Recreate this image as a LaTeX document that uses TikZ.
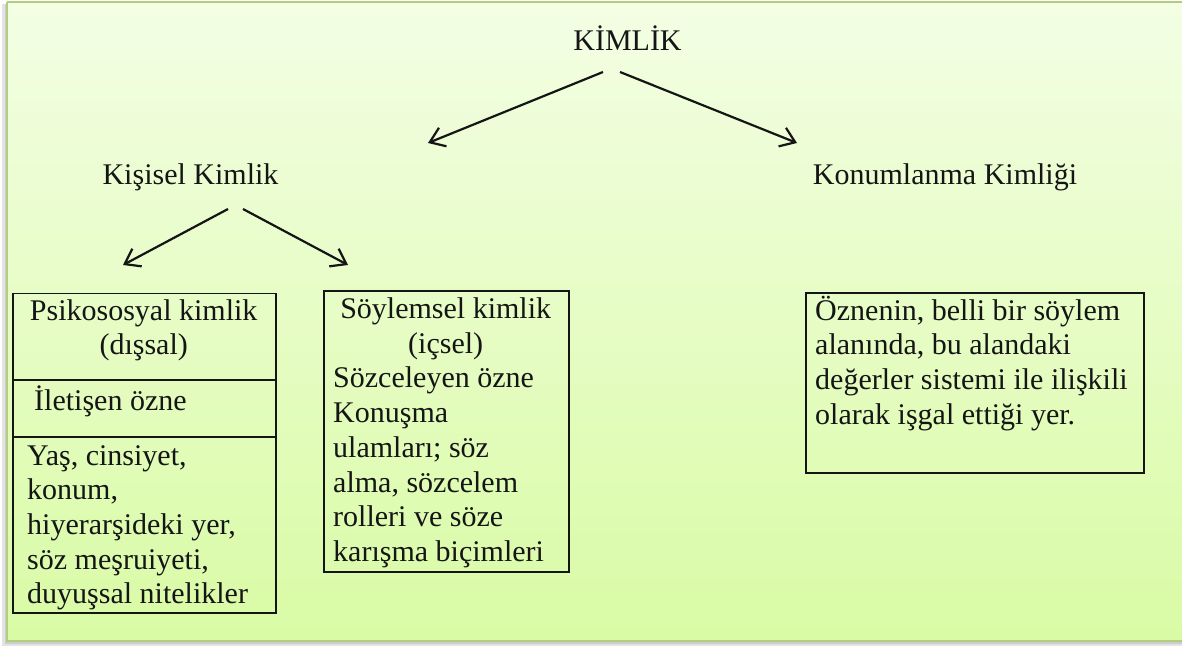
\documentclass[tikz,border=0pt]{standalone}
\usepackage{fontspec}
\setmainfont{Liberation Serif}
\usetikzlibrary{arrows.meta}
\definecolor{bgtop}{HTML}{F3FEE4}
\definecolor{bgbot}{HTML}{D9FBA5}
\definecolor{framec}{HTML}{B2CC80}
\definecolor{ink}{HTML}{151515}
\begin{document}
\begin{tikzpicture}[x=1pt,y=-1pt,
  lbl/.style={inner sep=0, anchor=base, font=\fontsize{30}{34.7}\selectfont, text=ink},
  txt/.style={inner sep=0, anchor=base west, font=\fontsize{30}{34.7}\selectfont, text=ink},
  box/.style={draw=ink, line width=1.6pt, anchor=north west, inner sep=0},
  divider/.style={draw=ink, line width=1.6pt},
  arr/.style={draw=ink, line width=2.2pt, -{Straight Barb[length=14pt,width=20pt]}}]
\useasboundingbox (0,0) rectangle (1182,645);
\fill[white] (-10,-10) rectangle (1250,660);
\fill[gray!22] (2,4) rectangle (1250,660);
\fill[gray!40] (4.5,4) rectangle (1250,643.5);
\shade[top color=bgtop, bottom color=bgbot] (7,2) rectangle (1250,641);
\draw[framec, line width=1.8pt] (7,2) -- (1250,2);
\draw[framec, line width=1.8pt] (7,2) -- (7,641) -- (1250,641);

% top labels
\node[lbl] (kimlik) at (627.5,50) {KİMLİK};
\node[lbl] (kisisel) at (190.5,184) {Kişisel Kimlik};
\node[lbl] (konum) at (945,184) {Konumlanma Kimliği};

% arrow end points
\coordinate (ka) at (603,72);
\coordinate (kaend) at (428,143);
\coordinate (kb) at (620,72);
\coordinate (kbend) at (797,143);
\coordinate (sa) at (228,209);
\coordinate (saend) at (123,265);
\coordinate (sb) at (243,209);
\coordinate (sbend) at (348,265);
\draw[arr] (ka) -- (kaend);
\draw[arr] (kb) -- (kbend);
\draw[arr] (sa) -- (saend);
\draw[arr] (sb) -- (sbend);

% box 1
\node[box, minimum width=263, minimum height=319.3] (b1) at (12,292.7) {};
\coordinate (d1) at (12,380);
\coordinate (d2) at (12,437);
\draw[divider] (d1) -- (d1 -| b1.east);
\draw[divider] (d2) -- (d2 -| b1.east);
\node[txt] (psi) at (12,320) {\parbox[t]{263pt}{\centering Psikososyal kimlik\\(dışsal)}};
\node[txt] (ilet) at (34,410) {İletişen özne};
\node[txt] (yas) at (27,465) {\parbox[t]{245pt}{\raggedright Yaş, cinsiyet,\\konum,\\hiyerarşideki yer,\\söz meşruiyeti,\\duyuşsal nitelikler}};

% box 2
\node[box, minimum width=245, minimum height=281] (b2) at (323,290) {};
\node[txt] (soy) at (333,318.5) {\parbox[t]{225pt}{\centering Söylemsel kimlik\\(içsel)\par\raggedright Sözceleyen özne\\Konuşma\\ulamları; söz\\alma, sözcelem\\rolleri ve söze\\karışma biçimleri}};

% box 3
\node[box, minimum width=338, minimum height=180] (b3) at (805,292) {};
\node[txt] (ozne) at (815,320) {\parbox[t]{325pt}{\raggedright Öznenin, belli bir söylem\\alanında, bu alandaki\\değerler sistemi ile ilişkili\\olarak işgal ettiği yer.}};
\end{tikzpicture}
\end{document}
